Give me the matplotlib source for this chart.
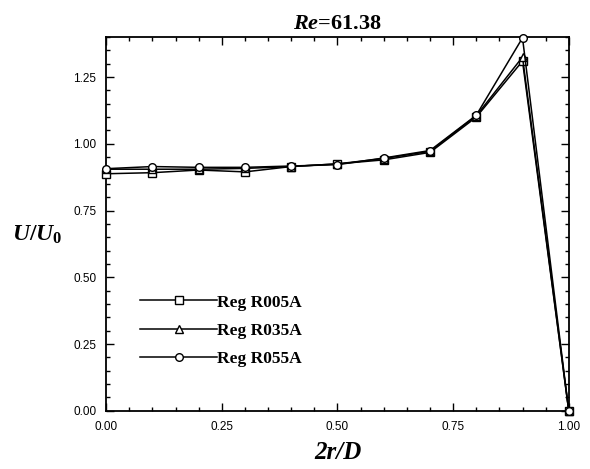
import numpy as np
import matplotlib
matplotlib.use("Agg")
import matplotlib.pyplot as plt
from matplotlib.ticker import MultipleLocator

# radial velocity profiles, three regulator cases
r = [0.0, 0.1, 0.2, 0.3, 0.4, 0.5, 0.6, 0.7, 0.8, 0.9, 1.0]
u_r005a = [0.888, 0.892, 0.902, 0.895, 0.915, 0.925, 0.940, 0.968, 1.100, 1.310, 0.0]
u_r035a = [0.905, 0.905, 0.905, 0.908, 0.915, 0.925, 0.945, 0.972, 1.105, 1.325, 0.0]
u_r055a = [0.907, 0.915, 0.912, 0.912, 0.917, 0.922, 0.947, 0.975, 1.107, 1.397, 0.0]
series = [("Reg R005A", u_r005a, "s"),
          ("Reg R035A", u_r035a, "^"),
          ("Reg R055A", u_r055a, "o")]

serif = ["Liberation Serif", "DejaVu Serif"]
plt.rcParams["font.family"] = ["Liberation Sans", "DejaVu Sans"]
plt.rcParams["mathtext.fontset"] = "custom"
plt.rcParams["mathtext.rm"] = "Liberation Serif:bold"
plt.rcParams["mathtext.it"] = "Liberation Serif:bold:italic"
plt.rcParams["mathtext.bf"] = "Liberation Serif:bold"

fig = plt.figure(figsize=(5.9, 4.69), dpi=100)
ax = fig.add_axes([0.18, 0.124, 0.784, 0.797])

for name, u, m in series:
    ax.plot(r, u, color="black", lw=1.1, marker=m, ms=5.5,
            mfc="white", mec="black", mew=1.0, label=name, clip_on=False, zorder=3)

ax.set_xlim(0, 1.0)
ax.set_ylim(0, 1.4)
ax.xaxis.set_major_locator(MultipleLocator(0.25))
ax.xaxis.set_minor_locator(MultipleLocator(0.05))
ax.yaxis.set_major_locator(MultipleLocator(0.25))
ax.yaxis.set_minor_locator(MultipleLocator(0.05))
ax.xaxis.set_major_formatter(lambda v, p: f"{v:.2f}")
ax.yaxis.set_major_formatter(lambda v, p: f"{v:.2f}")
ax.tick_params(which="both", direction="in", top=True, right=True, width=1.0)
ax.tick_params(which="major", length=6, labelsize=8.5, pad=7)
ax.tick_params(which="minor", length=3)
for s in ax.spines.values():
    s.set_linewidth(1.3)

ax.set_title(r"$\it{Re}$=61.38", fontsize=16, fontweight="bold", family=serif, pad=6)
ax.set_xlabel("2r/D", fontsize=18, fontweight="bold", fontstyle="italic", family=serif, labelpad=6)
ax.set_ylabel(r"$U/U_0$", fontsize=17, rotation=0, labelpad=22, va="center")
ax.yaxis.set_label_coords(-0.15, 0.47)

ax.legend(loc="lower left", bbox_to_anchor=(0.04, 0.075), frameon=False,
          handlelength=4.4, handletextpad=0.0, labelspacing=0.7,
          prop={"family": serif, "weight": "bold", "size": 12.5})

fig.savefig("out.png", dpi=100)
